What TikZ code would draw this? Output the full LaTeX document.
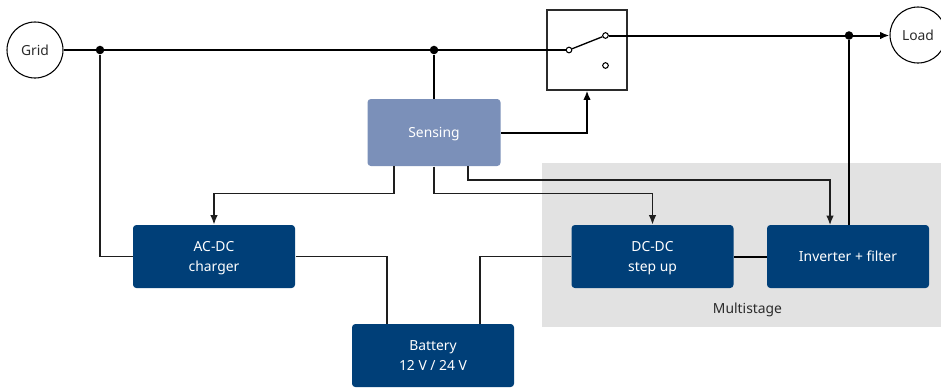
\documentclass[tikz,border=0pt]{standalone}
\usepackage{fontspec}
\setmainfont{Noto Sans}
\usetikzlibrary{arrows.meta}

\definecolor{darkblue}{HTML}{003F78}
\definecolor{paleblue}{HTML}{7B90B9}
\definecolor{panelgray}{HTML}{E2E2E2}
\definecolor{labelgray}{HTML}{2B2B2B}
\definecolor{wiregray}{HTML}{1E1E1E}

\tikzset{every picture/.style={line width=0.75pt}}
\tikzset{
  block/.style={fill=darkblue,text=white,rounded corners=2.5pt,minimum width=121.5pt,minimum height=47.25pt,inner sep=0pt,align=center,text depth=0pt,font=\fontsize{10.4}{14.5}\selectfont},
  port/.style={circle,draw,line width=0.8pt,minimum size=42pt,inner sep=0pt,text=labelgray,text depth=0pt,font=\fontsize{10.4}{12}\selectfont},
  contact/.style={circle,draw,fill=white,line width=0.8pt,minimum size=4.2pt,inner sep=0pt},
  dot/.style={circle,fill=black,minimum size=6.4pt,inner sep=0pt},
  mainwire/.style={line width=1.5pt},
  wire/.style={line width=1pt,draw=wiregray},
  tip/.style={-{Latex[length=7pt,width=5.6pt]}}
}

\begin{document}
\begin{tikzpicture}[x=0.75pt,y=0.75pt,yscale=-1,xscale=1]
        \useasboundingbox (0,0) rectangle (941,387);
        \fill[panelgray] (542,163) rectangle (941,327);

        \node[port] (grid) at (35,50) {Grid};
        \node[port] (load) at (918,35) {Load};
        \node[draw=labelgray,line width=0.8pt,minimum size=60pt,inner sep=0pt] (switch) at (587,50) {};
        \node[contact] (swin) at (569,50) {};
        \node[contact] (swa) at (605.5,35.5) {};
        \node[contact] (swb) at (605.5,65.5) {};

        \node[fill=paleblue,text=white,rounded corners=2.5pt,minimum width=99.75pt,minimum height=50.25pt,inner sep=0pt,text depth=0pt,font=\fontsize{10.4}{12}\selectfont] (sensing) at (434,132.5) {Sensing};
        \node[block] (charger) at (214,256.5) {AC-DC\\charger};
        \node[block] (battery) at (433,355.5) {Battery\\12 V / 24 V};
        \node[block] (stepup) at (652.5,256.5) {DC-DC\\step up};
        \node[block] (inverter) at (848,256.5) {Inverter + filter};
        \node[text=labelgray,inner sep=0pt,text depth=0pt,font=\fontsize{10.4}{12}\selectfont] (multistage) at (747.5,308) {Multistage};

        \node[dot] (gridtap) at (100,50) {};
        \node[dot] (sensetap) at (434,50) {};
        \node[dot] (loadtap) at (849,35.5) {};

        \coordinate (senseleft) at (394,166);
        \coordinate (senseright) at (468,166);
        \coordinate (invtop) at (830,225);
        \coordinate (batleft) at (387,324);
        \coordinate (batright) at (480,324);

        \draw[mainwire] (grid) -- (swin);
        \draw[mainwire] (sensetap) -- (sensing.north);
        \draw[line width=1pt] (swin) -- (swa);
        \draw[mainwire,tip] (swa) -- (swa -| load.west);
        \draw[mainwire] (loadtap) -- (loadtap |- inverter.north);
        \draw[mainwire,tip] (sensing.east) -| (switch.south);
        \draw[mainwire] (stepup) -- (inverter);

        \draw[wire] (gridtap) |- (charger.west);
        \draw[wire,tip] (senseleft) |- ([yshift=-23.25pt]charger.north) -- (charger.north);
        \draw[wire,tip] (sensing.south) |- ([yshift=-23.25pt]stepup.north) -- (stepup.north);
        \draw[wire,tip] (senseright) |- ([yshift=-33.75pt]invtop) -- (invtop);
        \draw[wire] (charger.east) -| (batleft);
        \draw[wire] (stepup.west) -| (batright);
    \end{tikzpicture}
\end{document}
